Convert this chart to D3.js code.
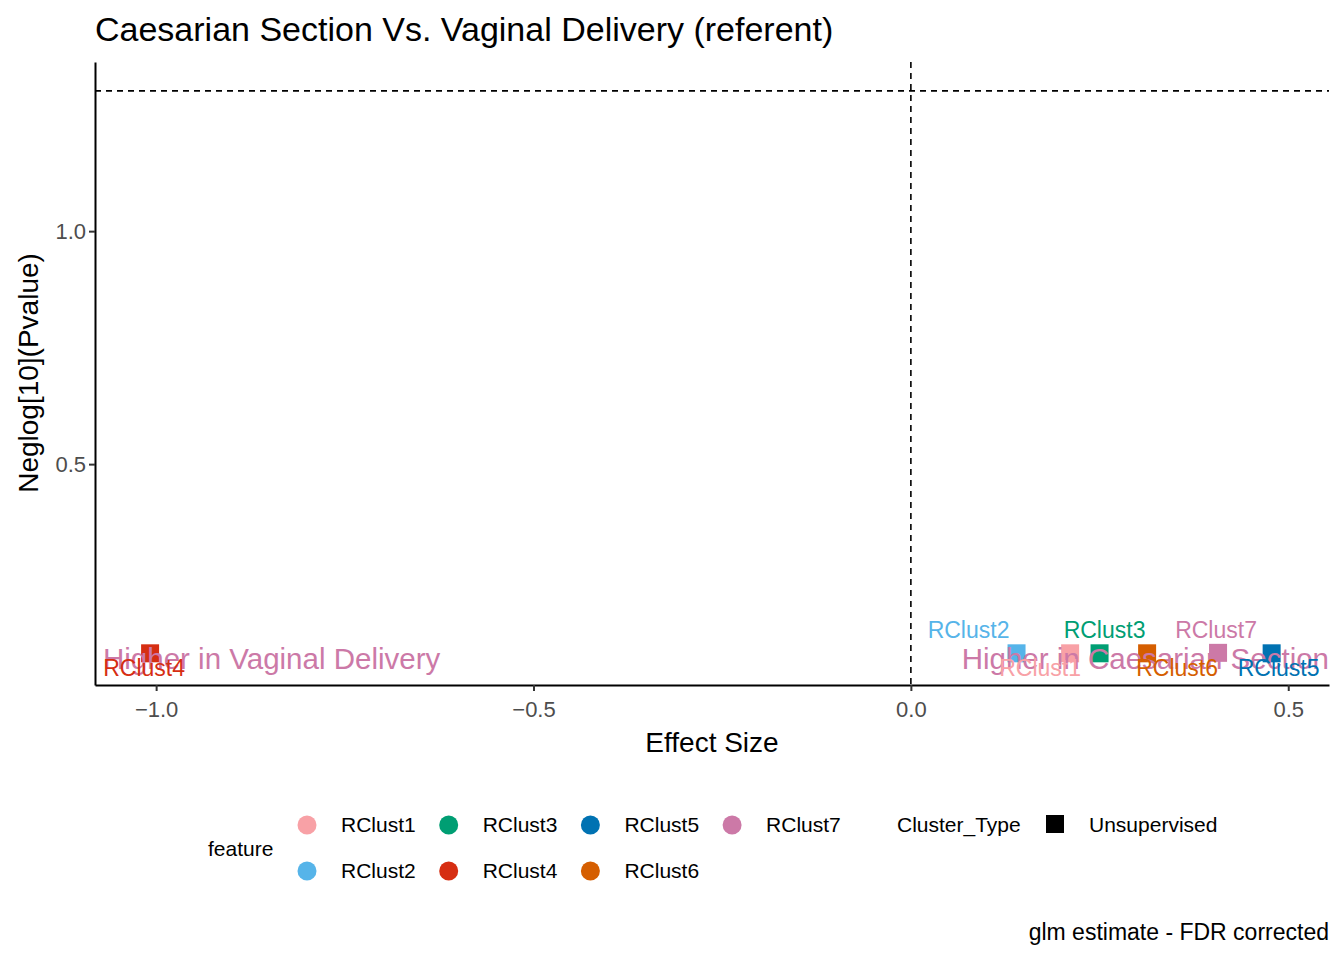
<!DOCTYPE html><html><head><meta charset="utf-8"><script src="https://cdn.jsdelivr.net/npm/d3@7"></script>
<style>body{margin:0;background:#fff}text{font-family:"Liberation Sans",Arial,sans-serif}</style></head><body><svg id="c" width="1344" height="960"></svg>
<script>
const features=["RClust1","RClust2","RClust3","RClust4","RClust5","RClust6","RClust7"];
const effect=[0.211,0.140,0.250,-1.008,0.478,0.313,0.407];
const neglogp=[0.094,0.094,0.094,0.094,0.094,0.094,0.095];
const colors=["#F8A1A6","#56B4E9","#009E73","#D62E12","#0072B2","#D55E00","#CC79A7"];
const labelSide=["below","above","above","below","below","below","above"];
const labelShift=[-30,-48,5,-6,7,30,-2];
const xTicks=[-1.0,-0.5,0.0,0.5], yTicks=[0.5,1.0];
const svg=d3.select("#c");
const x=d3.scaleLinear().domain([-1.081,0.554]).range([95,1329]);
const y=d3.scaleLinear().domain([0.026,1.363]).range([685,62]);
svg.append("text").attr("x",95).attr("y",41).attr("font-size",34).text("Caesarian Section Vs. Vaginal Delivery (referent)");
svg.append("line").attr("x1",95).attr("x2",1329).attr("y1",y(-Math.log10(0.05))).attr("y2",y(-Math.log10(0.05))).attr("stroke","#000").attr("stroke-width",1.6).attr("stroke-dasharray","6,5");
svg.append("line").attr("x1",x(0)).attr("x2",x(0)).attr("y1",62).attr("y2",685).attr("stroke","#000").attr("stroke-width",1.6).attr("stroke-dasharray","6,5");
const xa=svg.append("g").attr("transform","translate(0,685)").call(d3.axisBottom(x).tickValues(xTicks).tickFormat(d3.format(".1f")).tickSize(6).tickSizeOuter(0));
const ya=svg.append("g").attr("transform","translate(95,0)").call(d3.axisLeft(y).tickValues(yTicks).tickFormat(d3.format(".1f")).tickSize(6).tickSizeOuter(0));
[xa,ya].forEach(a=>{a.select(".domain").attr("stroke","#000").attr("stroke-width",2);a.selectAll(".tick line").attr("stroke","#333").attr("stroke-width",2);a.selectAll(".tick text").attr("font-size",22).attr("fill","#4d4d4d").attr("font-family","Liberation Sans, Arial");});
xa.selectAll(".tick text").attr("dy","1.05em");
svg.append("text").attr("x",712).attr("y",752).attr("text-anchor","middle").attr("font-size",28).text("Effect Size");
svg.append("text").attr("transform","translate(38,373) rotate(-90)").attr("text-anchor","middle").attr("font-size",28).text("Neglog[10](Pvalue)");
const idx=d3.range(features.length);
svg.selectAll("rect.pt").data(idx).join("rect").attr("x",i=>x(effect[i])-9).attr("y",i=>y(neglogp[i])-9).attr("width",18).attr("height",18).attr("fill",i=>colors[i]);
svg.append("text").attr("x",103).attr("y",669).attr("font-size",29.5).attr("fill","#CC79A7").text("Higher in Vaginal Delivery");
svg.append("text").attr("x",1329).attr("y",669).attr("text-anchor","end").attr("font-size",29.5).attr("fill","#CC79A7").text("Higher in Caesarian Section");
svg.selectAll("text.lab").data(idx).join("text").attr("x",i=>x(effect[i])+labelShift[i]).attr("y",i=>y(neglogp[i])+(labelSide[i]==="above"?-15:23)).attr("text-anchor","middle").attr("font-size",23).attr("fill",i=>colors[i]).text(i=>features[i]);
svg.append("text").attr("x",208).attr("y",856).attr("font-size",21).text("feature");
idx.forEach(i=>{const col=Math.floor(i/2),row=i%2;const cx=307+col*141.7,cy=825+row*46;
svg.append("circle").attr("cx",cx).attr("cy",cy).attr("r",9.5).attr("fill",colors[i]);
svg.append("text").attr("x",cx+34).attr("y",cy+7).attr("font-size",21).text(features[i]);});
svg.append("text").attr("x",897).attr("y",832).attr("font-size",21).text("Cluster_Type");
svg.append("rect").attr("x",1046).attr("y",815).attr("width",18).attr("height",18).attr("fill","#000");
svg.append("text").attr("x",1089).attr("y",832).attr("font-size",21).text("Unsupervised");
svg.append("text").attr("x",1329).attr("y",940).attr("text-anchor","end").attr("font-size",23).text("glm estimate - FDR corrected");
</script></body></html>
